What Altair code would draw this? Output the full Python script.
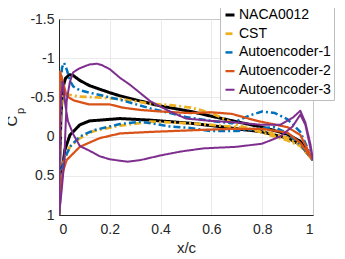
import altair as alt
import pandas as pd

series_names = ["NACA0012", "CST", "Autoencoder-1", "Autoencoder-2", "Autoencoder-3"]
series_colors = ["#000000", "#EDB120", "#0072BD", "#D95319", "#7E2F8E"]

# upper surface (x increasing from leading edge)
naca_xu = [0.0, 0.003, 0.008, 0.015, 0.025, 0.04, 0.056, 0.08, 0.12, 0.2, 0.24, 0.3, 0.4, 0.52, 0.6, 0.7, 0.8, 0.9, 0.95, 1.0]
naca_cpu = [1.0, 0.30, -0.30, -0.62, -0.74, -0.79, -0.78, -0.72, -0.65, -0.56, -0.52, -0.47, -0.39, -0.32, -0.26, -0.19, -0.12, -0.03, 0.06, 0.30]
naca_xl = [0.0, 0.004, 0.01, 0.023, 0.043, 0.082, 0.12, 0.24, 0.36, 0.52, 0.6, 0.7, 0.8, 0.9, 0.95, 1.0]
naca_cpl = [1.0, 0.75, 0.50, 0.17, -0.02, -0.15, -0.20, -0.23, -0.21, -0.17, -0.14, -0.10, -0.06, 0.02, 0.10, 0.30]

cst_xu = [0.0, 0.003, 0.006, 0.01, 0.02, 0.03, 0.08, 0.15, 0.24, 0.36, 0.44, 0.52, 0.6, 0.7, 0.8, 0.9, 0.95, 1.0]
cst_cpu = [1.0, 0.30, -0.20, -0.50, -0.55, -0.54, -0.51, -0.50, -0.48, -0.42, -0.40, -0.37, -0.30, -0.15, -0.05, 0.05, 0.12, 0.30]
cst_xl = [0.0, 0.004, 0.01, 0.02, 0.043, 0.082, 0.135, 0.24, 0.36, 0.52, 0.6, 0.7, 0.8, 0.9, 0.95, 1.0]
cst_cpl = [1.0, 0.70, 0.45, 0.30, 0.13, 0.02, -0.07, -0.14, -0.19, -0.17, -0.15, -0.12, -0.08, 0.02, 0.10, 0.30]

ae1_xu = [0.0, 0.002, 0.004, 0.012, 0.02, 0.03, 0.045, 0.056, 0.082, 0.135, 0.24, 0.36, 0.437, 0.5, 0.6, 0.68, 0.75, 0.8, 0.85, 0.9, 0.95, 1.0]
ae1_cpu = [1.0, 0.30, -0.60, -0.88, -0.94, -0.86, -0.70, -0.64, -0.59, -0.55, -0.47, -0.36, -0.30, -0.25, -0.20, -0.17, -0.27, -0.32, -0.30, -0.22, -0.06, 0.30]
ae1_xl = [0.0, 0.004, 0.01, 0.02, 0.043, 0.082, 0.135, 0.24, 0.32, 0.437, 0.516, 0.6, 0.7, 0.8, 0.85, 0.9, 0.95, 1.0]
ae1_cpl = [1.0, 0.70, 0.45, 0.30, 0.13, 0.0, -0.08, -0.16, -0.19, -0.13, -0.11, -0.07, -0.07, -0.11, -0.12, -0.04, 0.10, 0.30]

ae2_xu = [0.0, 0.002, 0.004, 0.015, 0.03, 0.043, 0.06, 0.12, 0.135, 0.2, 0.25, 0.32, 0.4, 0.516, 0.6, 0.68, 0.78, 0.9, 0.95, 1.0]
ae2_cpu = [1.0, -0.20, -0.83, -0.70, -0.52, -0.49, -0.46, -0.41, -0.41, -0.41, -0.37, -0.34, -0.32, -0.30, -0.31, -0.29, -0.20, -0.12, -0.02, 0.30]
ae2_xl = [0.0, 0.005, 0.015, 0.03, 0.082, 0.16, 0.24, 0.36, 0.52, 0.6, 0.7, 0.8, 0.9, 0.95, 1.0]
ae2_cpl = [1.0, 0.70, 0.45, 0.30, 0.13, 0.02, -0.04, -0.06, -0.08, -0.09, -0.10, -0.10, -0.05, 0.08, 0.30]

ae3_xu = [0.0, 0.01, 0.02, 0.03, 0.043, 0.056, 0.08, 0.12, 0.15, 0.17, 0.2, 0.24, 0.28, 0.36, 0.437, 0.5, 0.6, 0.7, 0.8, 0.87, 0.92, 0.95, 0.97, 0.99, 1.0]
ae3_cpu = [1.0, 0.70, 0.35, -0.45, -0.70, -0.82, -0.87, -0.92, -0.93, -0.91, -0.86, -0.75, -0.66, -0.45, -0.32, -0.23, -0.20, -0.18, -0.15, -0.15, -0.24, -0.33, -0.18, 0.10, 0.30]
ae3_xl = [0.0, 0.003, 0.008, 0.015, 0.025, 0.035, 0.056, 0.082, 0.12, 0.16, 0.2, 0.27, 0.32, 0.4, 0.48, 0.57, 0.7, 0.8, 0.87, 0.92, 0.95, 0.97, 1.0]
ae3_cpl = [1.0, 0.20, -0.50, -0.70, -0.40, -0.20, -0.03, 0.12, 0.18, 0.25, 0.29, 0.32, 0.30, 0.24, 0.19, 0.15, 0.13, 0.09, 0.0, -0.13, -0.28, -0.15, 0.30]

x_ticks = [0, 0.2, 0.4, 0.6, 0.8, 1]
y_ticks = [-1.5, -1, -0.5, 0, 0.5, 1]

surfaces = [
    (naca_xu, naca_cpu, naca_xl, naca_cpl),
    (cst_xu, cst_cpu, cst_xl, cst_cpl),
    (ae1_xu, ae1_cpu, ae1_xl, ae1_cpl),
    (ae2_xu, ae2_cpu, ae2_xl, ae2_cpl),
    (ae3_xu, ae3_cpu, ae3_xl, ae3_cpl),
]

rows = []
for name, (xu, cpu, xl, cpl) in zip(series_names, surfaces):
    xs = list(reversed(xu)) + xl[1:]
    cps = list(reversed(cpu)) + cpl[1:]
    for i, (xv, cv) in enumerate(zip(xs, cps)):
        rows.append({"series": name, "x": xv, "cp": cv, "idx": i})
df = pd.DataFrame(rows)

FONT = "Liberation Sans"

lines = alt.Chart(df).mark_line(clip=True, strokeJoin="round").encode(
    x=alt.X("x:Q", scale=alt.Scale(domain=[0, 1], nice=False),
            axis=alt.Axis(values=x_ticks, title="x/c", labelExpr="'' + datum.value",
                          grid=True, ticks=False, labelPadding=7, titlePadding=4)),
    y=alt.Y("cp:Q", scale=alt.Scale(domain=[-1.5, 1], reverse=True, nice=False),
            axis=alt.Axis(values=y_ticks, title=None, labelExpr="'' + datum.value",
                          grid=True, ticks=False, labelPadding=5)),
    color=alt.Color("series:N", scale=alt.Scale(domain=series_names, range=series_colors),
                    sort=series_names, legend=alt.Legend(title=None)),
    strokeDash=alt.StrokeDash("series:N", sort=series_names,
                              scale=alt.Scale(domain=series_names,
                                              range=[[1, 0], [7, 3, 2, 3], [7, 3, 2, 3], [1, 0], [1, 0]]),
                              legend=alt.Legend(title=None)),
    strokeWidth=alt.StrokeWidth("series:N", sort=series_names,
                                scale=alt.Scale(domain=series_names, range=[3, 2, 2, 2, 1.3]),
                                legend=alt.Legend(title=None)),
    order="idx:Q",
)

ytitle_c = alt.Chart(pd.DataFrame({"t": ["C"]})).mark_text(
    angle=270, font=FONT, fontSize=15, align="center", baseline="middle", color="#262626"
).encode(x=alt.value(-47), y=alt.value(102), text="t:N")
ytitle_p = alt.Chart(pd.DataFrame({"t": ["p"]})).mark_text(
    angle=270, font=FONT, fontSize=11, align="center", baseline="middle", color="#262626"
).encode(x=alt.value(-38), y=alt.value(92), text="t:N")

chart = alt.layer(lines, ytitle_c, ytitle_p).properties(
    width=254, height=196,
    autosize=alt.AutoSizeParams(type="none"),
    padding={"left": 51, "top": 11, "right": 24, "bottom": 40},
).configure_view(stroke="#555555", strokeWidth=1).configure_axis(
    labelFont=FONT, labelFontSize=14, labelColor="#262626",
    titleFont=FONT, titleFontSize=15, titleColor="#262626", titleFontWeight="normal",
    domainColor="#262626", gridColor="#e6e6e6", gridWidth=0.8,
).configure_legend(
    orient="none", legendX=161, legendY=-14,
    fillColor="white", strokeColor="#bdbdbd", padding=3,
    labelFont=FONT, labelFontSize=14, labelColor="#000000", labelOffset=2,
    symbolType="stroke", symbolSize=81, symbolStrokeWidth=2.5,
    rowPadding=4.7, cornerRadius=0, labelLimit=200,
)

chart.save("out.html", embed_options={"renderer": "svg", "actions": False})
